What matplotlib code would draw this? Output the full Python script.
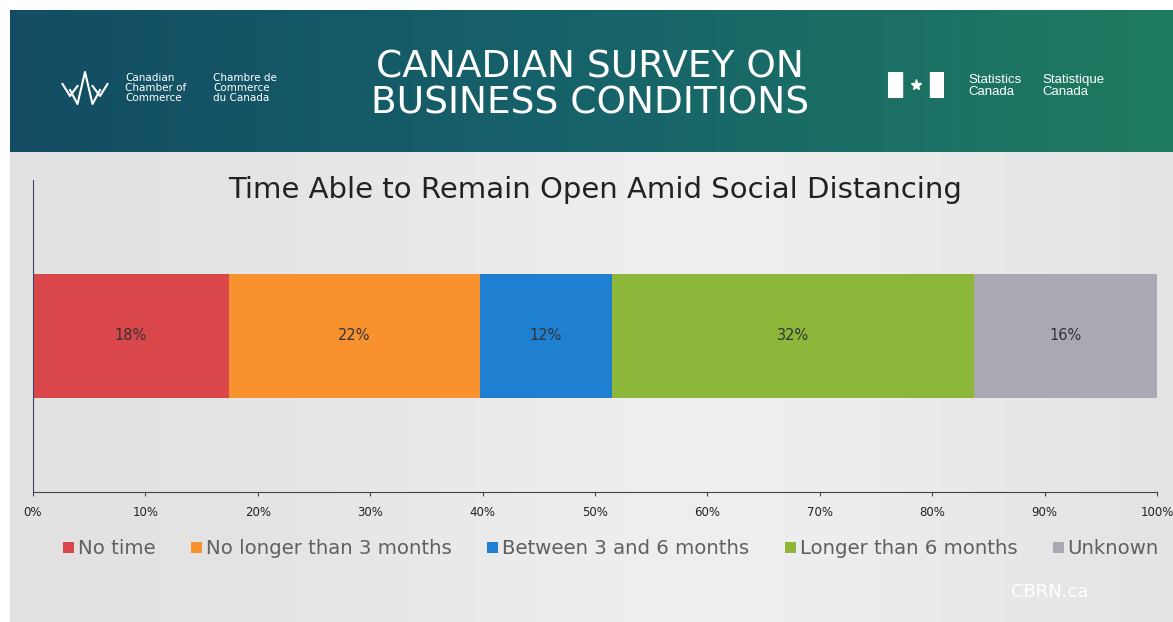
import numpy as np
import matplotlib.pyplot as plt
from matplotlib.colors import LinearSegmentedColormap
from matplotlib.patches import Rectangle

# data
categories = ['No time', 'No longer than 3 months', 'Between 3 and 6 months',
              'Longer than 6 months', 'Unknown']
shares = [17.4, 22.4, 11.7, 32.2, 16.3]
share_labels = ['18%', '22%', '12%', '32%', '16%']
colors = ['#d9474a', '#f7922f', '#1f7fd1', '#8db73a', '#a9a9b4']
xticks = [0, 10, 20, 30, 40, 50, 60, 70, 80, 90, 100]

plt.rcParams['font.family'] = ['DejaVu Sans']

fig = plt.figure(figsize=(11.73, 6.22), dpi=100)
fig.patch.set_facecolor('white')

# slide background (light gray, lighter in the middle)
bg = fig.add_axes([10/1173, 0, 1 - 10/1173, 1 - 150/622])
grad = np.linspace(0, 1, 300)
shade = 1 - 0.6 * np.exp(-((grad - 0.6) / 0.3) ** 2)
bg.imshow(shade[None, :], aspect='auto', extent=[0, 1, 0, 1],
          cmap=LinearSegmentedColormap.from_list('bg', ['#f7f7f7', '#e2e2e2']),
          vmin=0, vmax=1)
bg.set_axis_off()

# header band
hd = fig.add_axes([10/1173, 1 - 152/622, 1 - 10/1173, 142/622])
hd.imshow(np.linspace(0, 1, 300)[None, :], aspect='auto', extent=[0, 1, 0, 1],
          cmap=LinearSegmentedColormap.from_list('hd', ['#134c63', '#17636a', '#1f7b5f']))
hd.set_xlim(0, 1)
hd.set_ylim(0, 1)
hd.set_axis_off()

# header texts
fig.text(590/1173, 1 - 85/622, 'CANADIAN SURVEY ON\nBUSINESS CONDITIONS', color='white',
         fontsize=27, ha='center', va='center', linespacing=1.0)
fig.text(125/1173, 1 - 88/622, 'Canadian\nChamber of\nCommerce', color='white',
         fontsize=7.5, ha='left', va='center', linespacing=0.95)
fig.text(213/1173, 1 - 88/622, 'Chambre de\nCommerce\ndu Canada', color='white',
         fontsize=7.5, ha='left', va='center', linespacing=0.95)
fig.text(968/1173, 1 - 86/622, 'Statistics\nCanada', color='white', family='Liberation Sans',
         fontsize=9.5, ha='left', va='center', linespacing=0.9)
fig.text(1042/1173, 1 - 86/622, 'Statistique\nCanada', color='white', family='Liberation Sans',
         fontsize=9.5, ha='left', va='center', linespacing=0.9)

# simple chamber logo
lg = fig.add_axes([60/1173, 1 - 108/622, 50/1173, 40/622])
lg.plot([0.2, 0.35, 0.5, 0.65, 0.8], [0.45, 0.1, 0.9, 0.1, 0.45], color='white', lw=1.5)
lg.plot([0.05, 0.2, 0.35], [0.6, 0.3, 0.55], color='white', lw=1.5)
lg.plot([0.65, 0.8, 0.95], [0.55, 0.3, 0.6], color='white', lw=1.5)
lg.set_xlim(0, 1)
lg.set_ylim(0, 1)
lg.set_axis_off()

# flag symbol
fl = fig.add_axes([888/1173, 1 - 98/622, 56/1173, 26/622])
fl.add_patch(Rectangle((0, 0), 0.25, 1, color='white'))
fl.add_patch(Rectangle((0.75, 0), 0.25, 1, color='white'))
fl.plot([0.5], [0.5], marker='*', color='white', markersize=8)
fl.set_xlim(0, 1)
fl.set_ylim(0, 1)
fl.set_axis_off()

# chart title
fig.text(595/1173, 1 - 190/622, 'Time Able to Remain Open Amid Social Distancing',
         color='#222222', fontsize=21, ha='center', va='center')

# the stacked bar
ax = fig.add_axes([33/1173, 130/622, 1124/1173, 312/622])
ax.patch.set_alpha(0)
left = 0
for cat, val, lab, col in zip(categories, shares, share_labels, colors):
    ax.barh(0.5, val, left=left, height=0.4, color=col, label=cat)
    ax.text(left + val / 2, 0.5, lab, ha='center', va='center',
            fontsize=10.5, color='#333333')
    left += val

ax.set_xlim(0, 100)
ax.set_ylim(0, 1)
ax.set_xticks(xticks)
ax.set_xticklabels([f'{t}%' for t in xticks], fontsize=8.5, color='#222222')
ax.set_yticks([])
for s in ['top', 'right']:
    ax.spines[s].set_visible(False)
ax.spines['left'].set_color('#444466')
ax.spines['bottom'].set_color('#444444')
ax.tick_params(axis='x', length=3, color='#444444', pad=7)

leg = fig.legend(loc='center', bbox_to_anchor=(611/1173, 1 - 549/622), ncol=5,
                 frameon=False, fontsize=14.2, handlelength=0.55, handleheight=0.55,
                 handletextpad=0.2, columnspacing=1.8)
for t in leg.get_texts():
    t.set_color('#606060')

# watermark
fig.text(1050/1173, 1 - 592/622, 'CBRN.ca', color='white', fontsize=13,
         ha='center', va='center')

fig.savefig('out.png', dpi=100)
